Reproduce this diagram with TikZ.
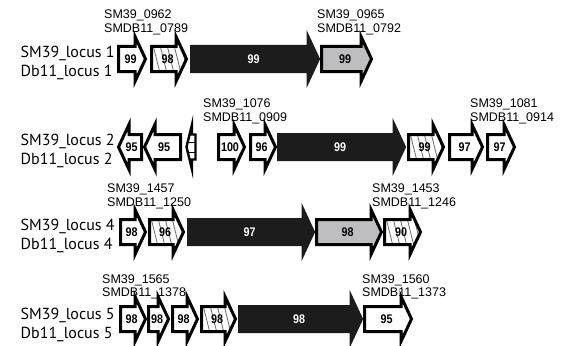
\documentclass[tikz,border=0pt]{standalone}
\usepackage{fontspec}
\usepackage{graphicx}
\setmainfont{Liberation Sans}
\newfontfamily\locusfont{PT Sans}
\definecolor{arrgrey}{RGB}{190,190,192}
\definecolor{arrblack}{RGB}{28,28,28}
\definecolor{hatchc}{RGB}{105,105,105}
\tikzset{
 outl/.style={line width=3pt, line join=miter, miter limit=10, draw=black},
 numtxt/.style={font=\fontsize{12.5}{14}\selectfont\bfseries, inner sep=0pt},
 genelab/.style={font=\fontsize{12.5}{14}\selectfont, anchor=base west, inner sep=0pt},
 locuslab/.style={font=\locusfont\fontsize{16}{18}\selectfont, anchor=base west, inner sep=0pt},
 hatchline/.style={draw=hatchc, line width=0.8pt},
}
\newcommand\nb[1]{\scalebox{0.86}[1]{#1}}
\newcommand\RApath[4]{(#1+1.5,#4-12.5) -- (#2,#4-12.5) -- (#2,#4-22.5) -- (#3-1.5,#4) -- (#2,#4+22.5) -- (#2,#4+12.5) -- (#1+1.5,#4+12.5) -- cycle}
\newcommand\LApath[4]{(#1+1.5,#4) -- (#2,#4-22.5) -- (#2,#4-12.5) -- (#3-1.5,#4-12.5) -- (#3-1.5,#4+12.5) -- (#2,#4+12.5) -- (#2,#4+22.5) -- cycle}
\newcommand\WR[5]{\draw[outl, fill=white] \RApath{#1}{#2}{#3}{#4};
 \node[numtxt] (g#1x#4) at ({(#1+#3)/2-1.5},#4) {\nb{#5}};}
\newcommand\GR[5]{\draw[outl, fill=arrgrey] \RApath{#1}{#2}{#3}{#4};
 \node[numtxt] (g#1x#4) at ({(#1+#3)/2-1.5},#4) {\nb{#5}};}
\newcommand\BR[5]{\draw[outl, draw=arrblack, fill=arrblack] \RApath{#1}{#2}{#3}{#4};
 \node[numtxt, text=white] (g#1x#4) at ({(#1+#3)/2-1.5},#4) {\nb{#5}};}
\newcommand\HR[5]{\fill[white] \RApath{#1}{#2}{#3}{#4};
 \begin{scope}\clip \RApath{#1}{#2}{#3}{#4};
 \foreach \k in {-14,-7,...,64} {\draw[hatchline] (#1+\k,#4-26) -- (#1+\k+13,#4+26);}
 \end{scope}
 \draw[outl] \RApath{#1}{#2}{#3}{#4};
 \node[numtxt] (g#1x#4) at ({(#1+#3)/2-1.5},#4) {\nb{#5}};}
\newcommand\WL[5]{\draw[outl, fill=white] \LApath{#1}{#2}{#3}{#4};
 \node[numtxt] (g#1x#4) at ({(#1+#3)/2+1.5},#4) {\nb{#5}};}
\begin{document}
\begin{tikzpicture}[x=1pt,y=-1pt]
\useasboundingbox (0,0) rectangle (561,345);
% ---------- locus 1 ----------
\node[locuslab] (l1a) at (20.5,57.5) {SM39\_locus 1};
\node[locuslab] (l1b) at (20.5,76) {Db11\_locus 1};
\WR{117}{135}{147}{59}{99}
\HR{150}{176}{188}{59}{98}
\BR{190}{308}{320}{59}{99}
\GR{320}{361}{373}{59}{99}
\node[genelab] (t1a) at (104,19) {SM39\_0962};
\node[genelab] (t1b) at (104,33) {SMDB11\_0789};
\node[genelab] (t1c) at (317,19) {SM39\_0965};
\node[genelab] (t1d) at (317,33) {SMDB11\_0792};
% ---------- locus 2 ----------
\node[locuslab] (l2a) at (20.5,145.5) {SM39\_locus 2};
\node[locuslab] (l2b) at (20.5,164) {Db11\_locus 2};
\WL{117}{129}{143}{147}{95}
\WL{143}{155}{182}{147}{95}
\fill[white] \LApath{185}{192}{197}{147};
\begin{scope}
\clip \LApath{185}{192}{197}{147};
\foreach \k in {-15,-5,5,15} {\draw[black, line width=0.9pt] (180,147+\k) -- (200,147+\k);}
\end{scope}
\draw[outl, line width=2.4pt] \LApath{185}{192}{197}{147};
\WR{217}{234}{246}{147}{100}
\WR{249}{265}{277}{147}{96}
\BR{277}{394}{406}{147}{99}
\HR{407}{433}{445}{147}{99}
\WR{448}{472}{484}{147}{97}
\WR{486}{504}{516}{147}{97}
\node[genelab] (t2a) at (203,107) {SM39\_1076};
\node[genelab] (t2b) at (203,121) {SMDB11\_0909};
\node[genelab] (t2c) at (470,107) {SM39\_1081};
\node[genelab] (t2d) at (470,121) {SMDB11\_0914};
% ---------- locus 4 ----------
\node[locuslab] (l4a) at (20.5,230.5) {SM39\_locus 4};
\node[locuslab] (l4b) at (20.5,249) {Db11\_locus 4};
\WR{119}{135}{147}{232}{98}
\HR{148}{173}{185}{232}{96}
\BR{187}{303}{315}{232}{97}
\GR{315}{371}{383}{232}{98}
\HR{383}{410}{422}{232}{90}
\node[genelab] (t4a) at (107,192) {SM39\_1457};
\node[genelab] (t4b) at (107,206) {SMDB11\_1250};
\node[genelab] (t4c) at (372,192) {SM39\_1453};
\node[genelab] (t4d) at (372,206) {SMDB11\_1246};
% ---------- locus 5 ----------
\node[locuslab] (l5a) at (20.5,319.5) {SM39\_locus 5};
\node[locuslab] (l5b) at (20.5,338) {Db11\_locus 5};
\WR{119}{135}{147}{319}{98}
\WR{147}{158}{170}{319}{98}
\WR{171}{187}{199}{319}{98}
\HR{200}{225}{237}{319}{98}
\BR{238}{351}{363}{319}{98}
\WR{363}{401}{413}{319}{95}
\node[genelab] (t5a) at (102,283) {SM39\_1565};
\node[genelab] (t5b) at (102,296) {SMDB11\_1378};
\node[genelab] (t5c) at (362,283) {SM39\_1560};
\node[genelab] (t5d) at (362,296) {SMDB11\_1373};
\end{tikzpicture}
\end{document}
